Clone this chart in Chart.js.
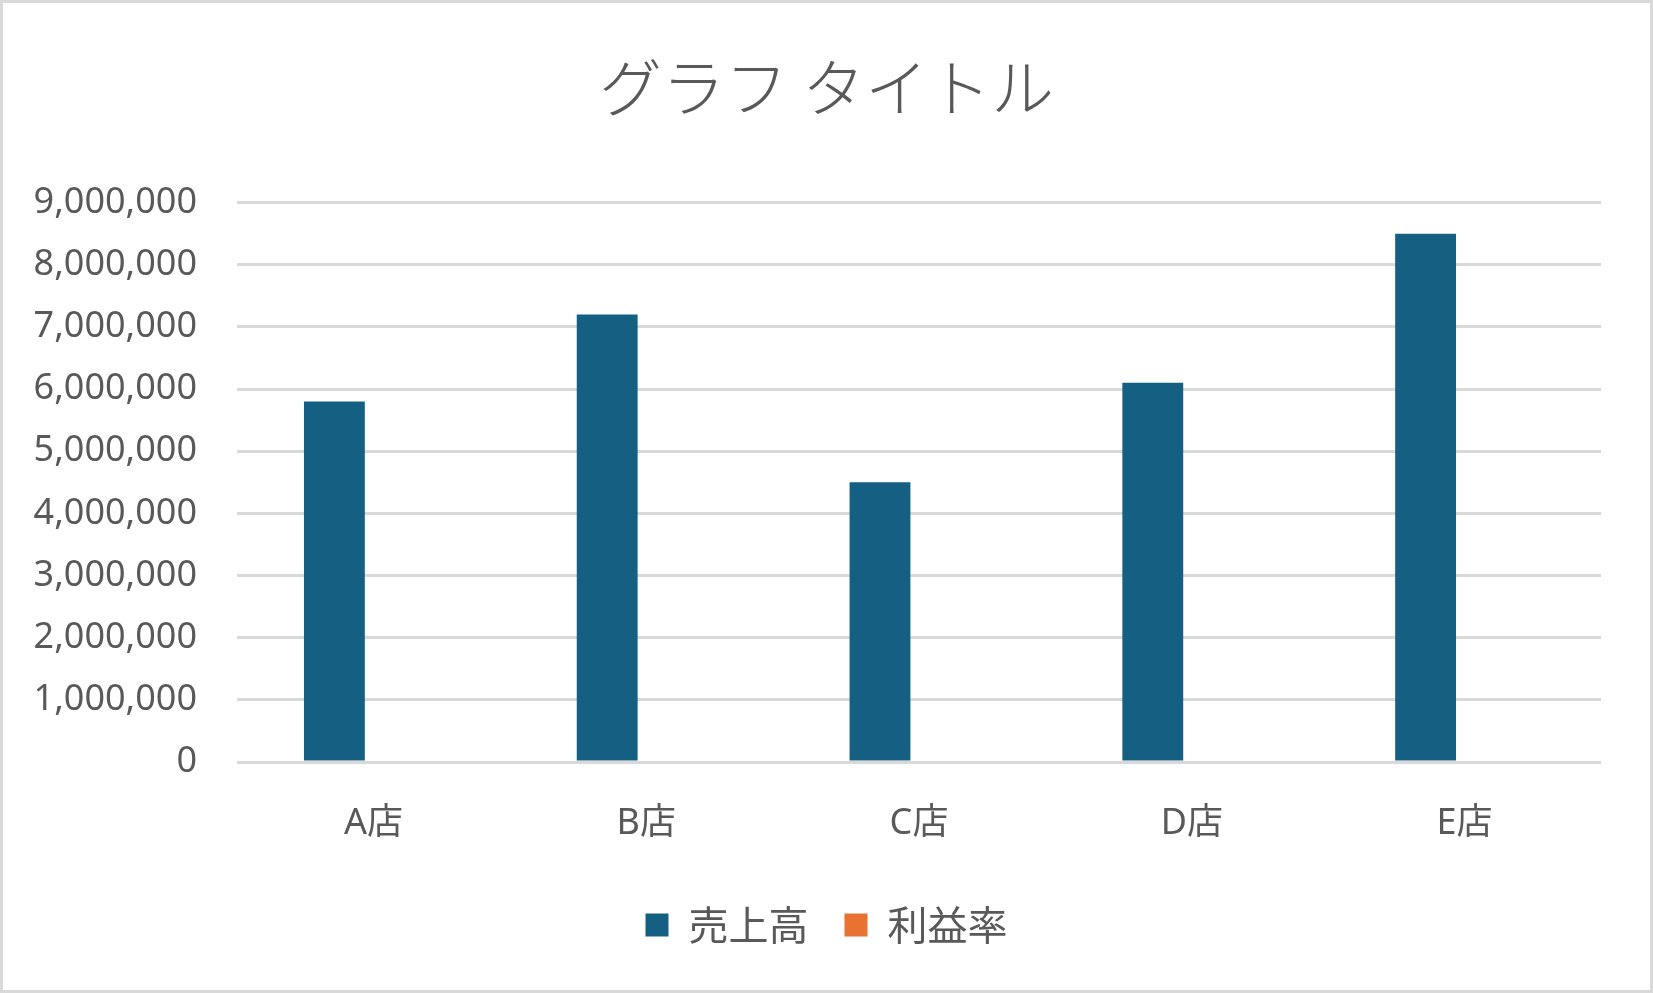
<!DOCTYPE html>
<html>
<head>
<meta charset="utf-8">
<script src="https://cdn.jsdelivr.net/npm/chart.js@4"></script>
<style>
html,body{margin:0;padding:0;background:#fff;}
#wrap{position:absolute;left:0;top:0;width:1653px;height:993px;box-sizing:border-box;border:3px solid #d9d9d9;background:#fff;}
#c{display:block;}
</style>
</head>
<body>
<div id="wrap"><canvas id="c" width="1647" height="987"></canvas></div>
<script>
const titleText = 'グラフ タイトル';
const categories = ['A店', 'B店', 'C店', 'D店', 'E店'];
const seriesNames = ['売上高', '利益率'];
const sales = [5800000, 7200000, 4500000, 6100000, 8500000];
const profitRate = [0.12, 0.15, 0.1, 0.13, 0.18];
const yMax = 9000000;
const yStep = 1000000;

const textColor = '#595959';
const gridColor = '#d9d9d9';
const latin = "'Noto Sans', 'Noto Sans CJK JP', sans-serif";
const cjk = "'Noto Sans CJK JP', sans-serif";

new Chart(document.getElementById('c'), {
  type: 'bar',
  data: {
    labels: categories,
    datasets: [
      { label: seriesNames[0], data: sales, backgroundColor: '#156082', borderWidth: 0,
        inflateAmount: 0, categoryPercentage: 0.572, barPercentage: 0.78, yAxisID: 'y' },
      { label: seriesNames[1], data: profitRate, backgroundColor: '#E97132', borderWidth: 0,
        inflateAmount: 0, categoryPercentage: 0.572, barPercentage: 0.78, yAxisID: 'y2' }
    ]
  },
  options: {
    responsive: false,
    animation: false,
    devicePixelRatio: 1,
    layout: { padding: { top: 0, right: 0, bottom: 35, left: 0 } },
    plugins: {
      title: {
        display: true, text: titleText, color: textColor,
        font: { family: cjk, size: 63, weight: 300, lineHeight: 1.2 },
        padding: { top: 46, bottom: 78 }
      },
      legend: {
        position: 'bottom',
        labels: {
          color: textColor, boxWidth: 23, boxHeight: 23, padding: 36,
          font: { family: cjk, size: 40 }
        }
      },
      tooltip: { enabled: false }
    },
    scales: {
      x: {
        grid: { display: false, drawTicks: false },
        border: { display: false },
        ticks: { color: textColor, padding: 40, font: { family: latin, size: 36 } },
        afterFit: s => { s.height = 107; }
      },
      y: {
        min: 0, max: yMax,
        grid: { color: gridColor, lineWidth: 3, drawTicks: false },
        border: { display: false },
        ticks: {
          stepSize: yStep, color: textColor, padding: 40,
          font: { family: latin, size: 36 },
          callback: v => v.toLocaleString('en-US')
        },
        afterFit: s => { s.width = 234; }
      },
      y2: {
        position: 'right',
        min: 0, max: yMax,
        grid: { display: false, drawTicks: false },
        border: { display: false },
        ticks: { display: false },
        afterFit: s => { s.width = 49; }
      }
    }
  }
});
</script>
</body>
</html>
